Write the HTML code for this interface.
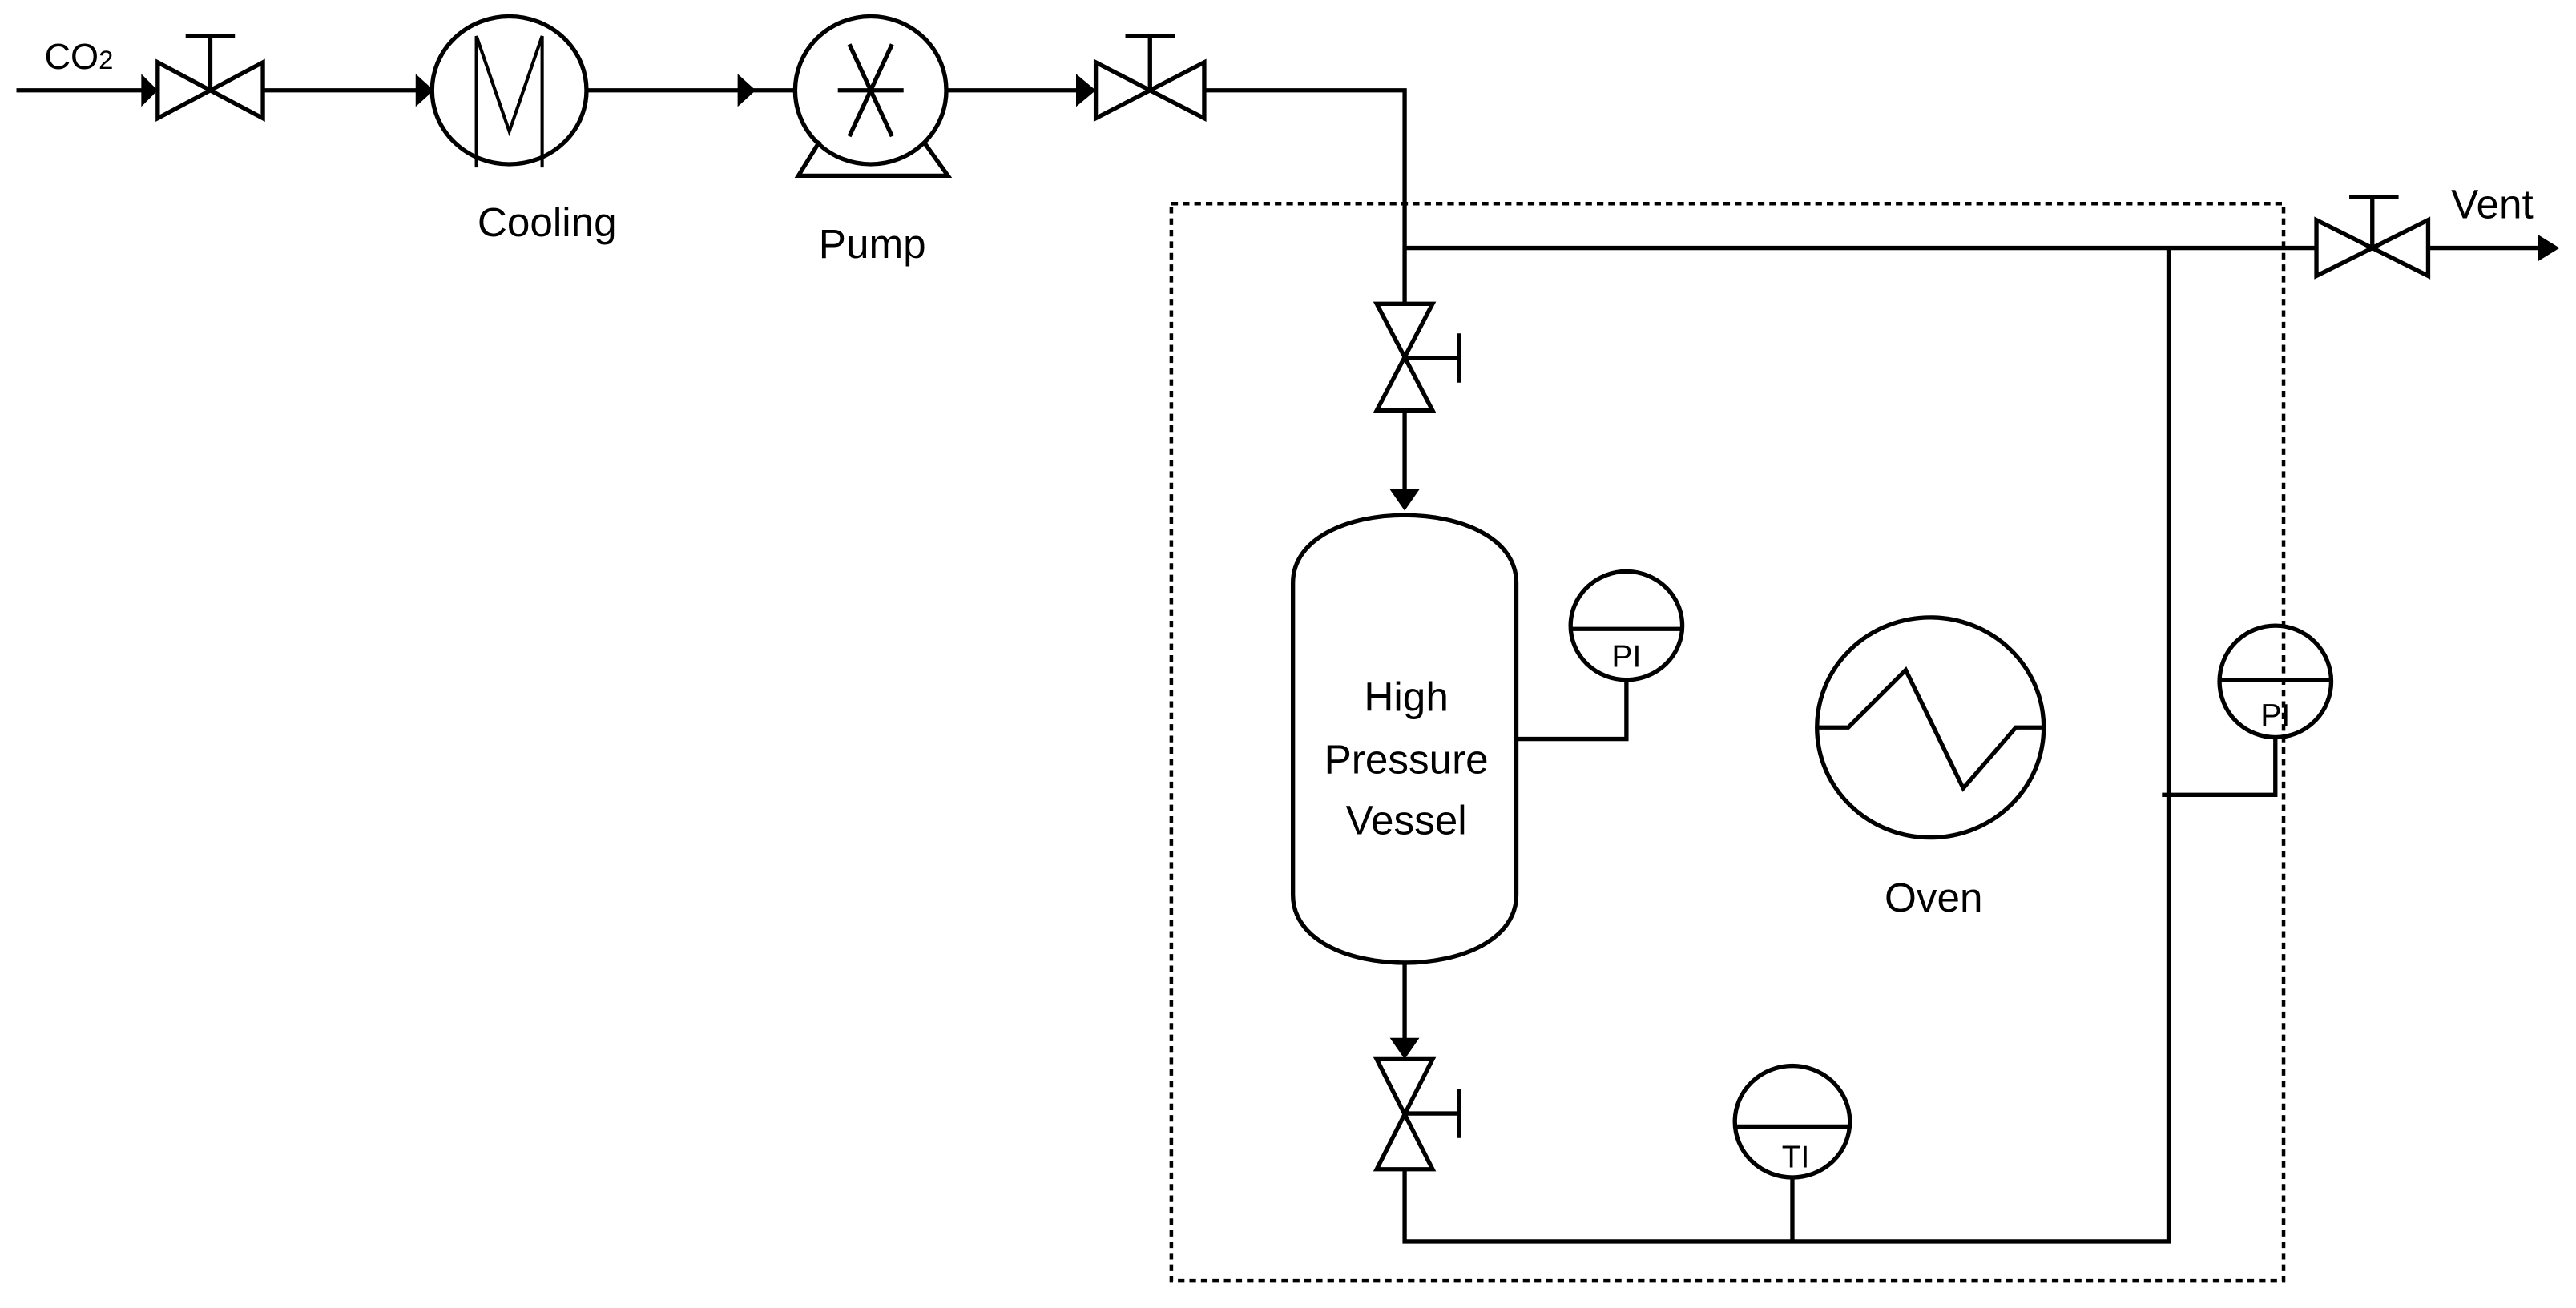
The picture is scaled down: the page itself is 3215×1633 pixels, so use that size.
<!DOCTYPE html>
<html><head><meta charset="utf-8"><style>html,body{margin:0;padding:0;background:#fff}svg{display:block}</style></head>
<body>
<svg width="3215" height="1633" viewBox="0 0 1568 796.5" preserveAspectRatio="none" xmlns="http://www.w3.org/2000/svg">
<g fill="none" stroke="#000" stroke-width="2.6">
<path d="M10 55H88M160 55H255M357 55H485M577 55H655M733 55H855V185"/>
<g fill="#000" stroke="none">
<path d="M86 45L96 55L86 65Z"/><path d="M253 45L264 55L253 65Z"/><path d="M449 45L460 55L449 65Z"/><path d="M655 45L667 55L655 65Z"/>
<path d="M1545 143L1558 151L1545 159Z"/>
<path d="M846 298L855 311L864 298Z"/><path d="M846 632L855 645L864 632Z"/>
</g>
<path d="M96 38L160 72V38L96 72Z"/><path d="M128 55V22M113 22H143"/>
<ellipse cx="310" cy="55" rx="47" ry="45"/>
<path d="M290 102V22L310 80L330 22V102" stroke-width="2"/>
<ellipse cx="530" cy="55" rx="46" ry="45"/>
<path d="M510 55H550M517 27L543 83M543 27L517 83"/>
<path d="M499 86L486 107H577L562 86"/>
<path d="M667 38L733 72V38L667 72Z"/><path d="M700 55V22M685 22H715"/>
<path d="M855 151H1410M1478 151H1545"/>
<path d="M1410 134L1478 168V134L1410 168Z"/><path d="M1444 151V120M1430 120H1460"/>
<path d="M838 185H872L838 250H872Z"/><path d="M855 218H888M888 203V233"/>
<path d="M855 250V300"/>
<path d="M787 355C787 300 923 300 923 355V545C923 600 787 600 787 545Z"/>
<path d="M855 585V634"/>
<path d="M838 645H872L838 712H872Z"/><path d="M855 678H888M888 663V693"/>
<path d="M855 712V756H1320V151"/>
<ellipse cx="1091" cy="683" rx="35" ry="34"/><path d="M1056 686H1126M1091 717V756"/>
<ellipse cx="990" cy="381" rx="34" ry="33"/><path d="M956 383H1024M923 450H990V414"/>
<ellipse cx="1175" cy="443" rx="69" ry="67"/>
<path d="M1107 443H1125L1160 408L1195 480L1227 443H1244"/>
<ellipse cx="1385" cy="415" rx="34" ry="34"/><path d="M1351 414H1419M1316 484H1385V449"/>
<rect x="713" y="124" width="677" height="656" stroke-width="2.2" stroke-dasharray="4 3"/>
</g>
<g font-family="'Liberation Sans', sans-serif" font-size="25" text-anchor="middle" fill="#000">
<text x="48" y="42" font-size="22">CO<tspan font-size="16">2</tspan></text>
<text x="333" y="144">Cooling</text>
<text x="531" y="157">Pump</text>
<text x="1517" y="133">Vent</text>
<text x="856" y="433">High</text>
<text x="856" y="471">Pressure</text>
<text x="856" y="508">Vessel</text>
<text x="1177" y="555">Oven</text>
<text x="990" y="406" font-size="19">PI</text>
<text x="1385" y="442" font-size="19">PI</text>
<text x="1093" y="711" font-size="19">TI</text>
</g>
</svg>
</body></html>
